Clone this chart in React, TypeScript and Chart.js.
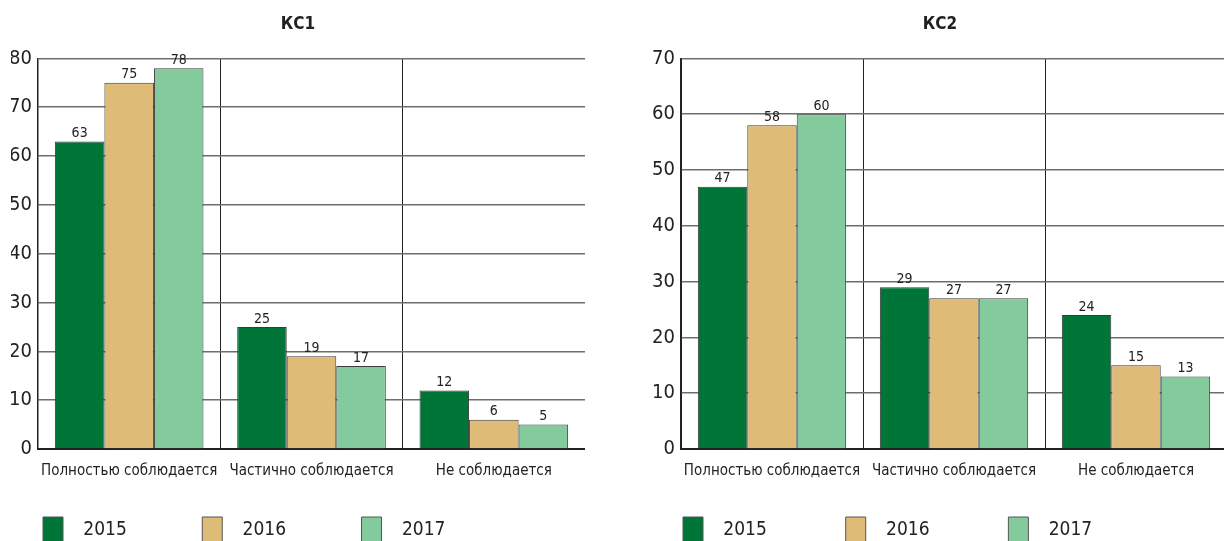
import React, { useEffect, useRef } from "react";
import { Chart, registerables } from "chart.js";

Chart.register(...registerables);

const categories = ["Полностью соблюдается", "Частично соблюдается", "Не соблюдается"];
const years = ["2015", "2016", "2017"];
const kc1Values2015 = [63, 25, 12];
const kc1Values2016 = [75, 19, 6];
const kc1Values2017 = [78, 17, 5];
const kc2Values2015 = [47, 29, 24];
const kc2Values2016 = [58, 27, 15];
const kc2Values2017 = [60, 27, 13];
const kc1Max = 80;
const kc2Max = 70;
const tickStep = 10;
const colors = ["#007538", "#dfbb78", "#83cb9c"];

const FONT = "'Liberation Sans Narrow', 'DejaVu Sans Condensed', 'Arial Narrow', sans-serif";

const valueLabels = {
  id: "valueLabels",
  afterDatasetsDraw(chart: any) {
    const ctx = chart.ctx;
    ctx.save();
    ctx.font = `14px ${FONT}`;
    ctx.fillStyle = "#222";
    ctx.textAlign = "center";
    ctx.textBaseline = "bottom";
    chart.data.datasets.forEach((ds: any, i: number) => {
      const meta = chart.getDatasetMeta(i);
      meta.data.forEach((el: any, j: number) => {
        ctx.fillText(String(ds.data[j]), el.x, el.y - 1);
      });
    });
    ctx.restore();
  },
};

type PanelProps = {
  title: string;
  series: number[][];
  max: number;
  left: number;
  width: number;
  padLeft: number;
  yWidth: number;
  xHeight: number;
  legendPad: number;
  legendTextW: number;
};

function Panel({ title, series, max, left, width, padLeft, yWidth, xHeight, legendPad, legendTextW }: PanelProps) {
  const ref = useRef<HTMLCanvasElement | null>(null);
  useEffect(() => {
    if (!ref.current) return;
    const chart = new Chart(ref.current, {
      type: "bar",
      data: {
        labels: categories,
        datasets: series.map((vals, i) => ({
          label: years[i],
          data: vals,
          backgroundColor: colors[i],
          borderColor: "#3a3a3a",
          borderWidth: 1,
          categoryPercentage: 0.815,
          barPercentage: 1,
        })),
      },
      options: {
        animation: false,
        responsive: true,
        maintainAspectRatio: false,
        layout: { padding: { left: padLeft, right: 0, top: 0, bottom: 7 } },
        plugins: {
          title: {
            display: true,
            text: title,
            color: "#222",
            font: { family: FONT, size: 17, weight: "bold" },
            padding: { top: 14, bottom: 24 },
          },
          tooltip: { enabled: false },
          legend: {
            position: "bottom",
            align: "start",
            labels: {
              boxWidth: 20,
              boxHeight: 26,
              padding: legendPad,
              color: "#222",
              font: { family: FONT, size: 19 },
              generateLabels(c: any) {
                const ctx = c.ctx;
                ctx.save();
                ctx.font = `19px ${FONT}`;
                const items = c.data.datasets.map((ds: any, i: number) => {
                  let t = "  " + ds.label;
                  let guard = 0;
                  while (ctx.measureText(t).width < legendTextW && guard < 40) {
                    t += " ";
                    guard++;
                  }
                  return {
                    text: t,
                    fillStyle: ds.backgroundColor,
                    strokeStyle: "#555",
                    lineWidth: 1,
                    hidden: false,
                    datasetIndex: i,
                    fontColor: "#222",
                  };
                });
                ctx.restore();
                return items;
              },
            },
          },
        },
        scales: {
          x: {
            grid: { color: "#222", lineWidth: 1, offset: true, drawTicks: false },
            border: { color: "#222", width: 2 },
            ticks: { color: "#222", font: { family: FONT, size: 15 }, padding: 13, maxRotation: 0, autoSkip: false },
            afterFit(scale: any) {
              scale.height = xHeight;
            },
          },
          y: {
            min: 0,
            max: max,
            ticks: { stepSize: tickStep, color: "#222", font: { family: FONT, size: 20 }, padding: 6 },
            grid: { color: "#6e6e6e", lineWidth: 1.5, drawTicks: false },
            border: { color: "#222", width: 1.5 },
            afterFit(scale: any) {
              scale.width = yWidth;
            },
          },
        },
      },
      plugins: [valueLabels],
    } as any);
    return () => chart.destroy();
  }, []);
  return (
    <div style={{ position: "absolute", left, top: 0, width, height: 560 }}>
      <canvas ref={ref} />
    </div>
  );
}

export default function App() {
  return (
    <div style={{ position: "absolute", left: 0, top: 0, width: 1224, height: 541, overflow: "hidden", background: "#fff" }}>
      <Panel title="КС1" series={[kc1Values2015, kc1Values2016, kc1Values2017]} max={kc1Max} left={0} width={585} padLeft={11} yWidth={27} xHeight={36} legendPad={32} legendTextW={95} />
      <Panel title="КС2" series={[kc2Values2015, kc2Values2016, kc2Values2017]} max={kc2Max} left={614} width={613} padLeft={39} yWidth={28} xHeight={38} legendPad={30} legendTextW={101} />
    </div>
  );
}
